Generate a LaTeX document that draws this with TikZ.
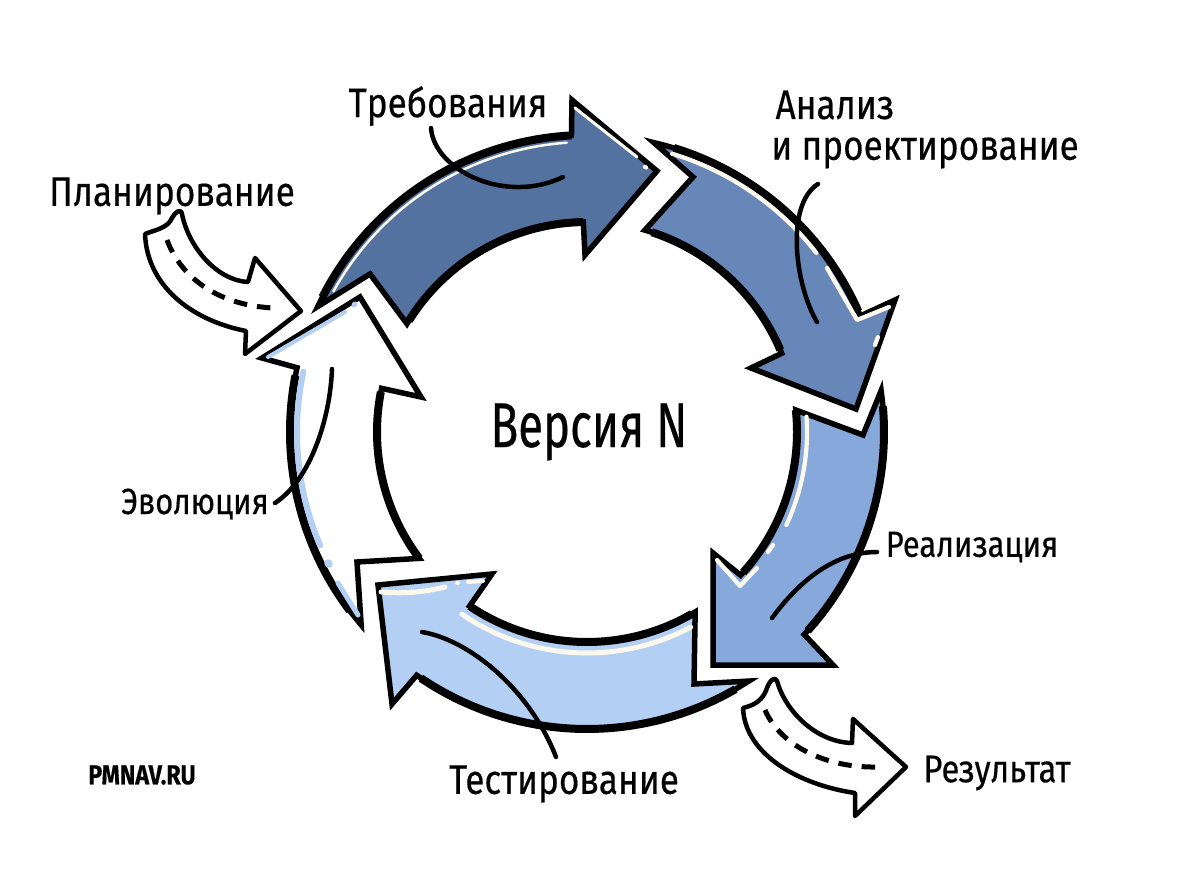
\documentclass[tikz,border=0pt]{standalone}
\usepackage{fontspec}
\setmainfont[FakeStretch=.85,FakeBold=.4]{Fira Sans}
\newfontfamily\tallfont[FakeStretch=.72,FakeBold=.4]{Fira Sans}
\definecolor{inkone}{HTML}{5472A0}
\definecolor{inktwo}{HTML}{6787B8}
\definecolor{inkthree}{HTML}{87A8DA}
\definecolor{inkfour}{HTML}{B4CFF4}
\definecolor{cream}{HTML}{FBF8EE}
\tikzset{
	ring/.style={smooth, samples=25},
	body/.style={draw=black, line width=.11cm, line join=miter, miter limit=20},
	rim/.style={draw=black, line width=.16cm},
	shine/.style={draw=cream, line width=.085cm, line cap=round, line join=round},
	bluemark/.style={draw=inkfour, line width=.12cm, line cap=round, line join=round},
	leader/.style={draw=black, line width=.09cm, line cap=round},
	sidearrow/.style={draw=black, fill=white, line width=.09cm, line join=round},
	sidedash/.style={draw=black, line width=.1cm, dash pattern=on .27cm off .2cm},
	label/.style={font=\fontsize{23.5}{24}\selectfont, inner sep=0pt},
	smalllabel/.style={font=\fontsize{20.7}{21}\selectfont, inner sep=0pt},
}

\begin{document}
\begin{tikzpicture}[x=.02cm,y=-.02cm]
	\useasboundingbox (0,0) rectangle (1200,885);
	\fill[white] (0,0) rectangle (1200,885);
	\coordinate (c) at (587,432);

	% side arrows
	\draw[sidearrow] (182,214) .. controls (188,245) and (215,280) .. (248,282) -- (255,258) -- (301,311) -- (245,354) -- (246,331) .. controls (190,320) and (147,285) .. (145,234) .. controls (155,230) and (168,228) .. (172,218) .. controls (175,212) and (181,208) .. (182,214) -- cycle;
	\draw[sidedash] (167,240) .. controls (180,275) and (215,305) .. (273,308);
	\draw[sidearrow] (777,681) .. controls (785,710) and (815,742) .. (852,743) -- (853,719) -- (906,767) -- (855,816) -- (855,793) .. controls (800,785) and (745,755) .. (743,708) .. controls (755,705) and (763,700) .. (767,688) .. controls (770,680) and (775,676) .. (777,681) -- cycle;
	\draw[sidedash] (765,710) .. controls (780,745) and (825,768) .. (877,767);

	% ring, first arrow
	\draw[body, fill=inkone] (370,274) -- plot[ring, domain=205:267] ([shift={(c)}]\x:297) -- (572,100) -- (657,171) -- (585,255) -- plot[ring, domain=269:211] ([shift={(c)}]\x:210) -- cycle;
	\draw[rim] plot[ring, domain=207:267] ([shift={(c)}]\x:297);
	\draw[rim] plot[ring, domain=269:212] ([shift={(c)}]\x:210);
	\draw[shine, line width=.05cm] plot[ring, domain=209:266] ([shift={(c)}]\x:290);
	\draw[shine, line width=.06cm] (575,108) -- (637,157);
	\draw[shine] (645,167) -- (646,167.5);

	% second arrow
	\draw[body, fill=inktwo] (693,177) -- plot[ring, domain=-77:-23] ([shift={(c)}]\x:297) -- (895,300) -- (856,409) -- (751,368) -- plot[ring, domain=-22:-74] ([shift={(c)}]\x:210) -- cycle;
	\draw[rim] plot[ring, domain=-73:-24] ([shift={(c)}]\x:297);
	\draw[rim] plot[ring, domain=-23:-72] ([shift={(c)}]\x:210);
	\draw[shine] plot[ring, domain=-73:-38] ([shift={(c)}]\x:291);
	\draw[shine] (827,268) -- (857,320) -- (889,307);
	\draw[shine] (878,337) -- (875,345);

	% third arrow
	\draw[body, fill=inkthree] (863,435) -- plot[ring, domain=-8:43] ([shift={(c)}]\x:297) -- (833,665) -- (713,665) -- (713,553) -- plot[ring, domain=43:-6] ([shift={(c)}]\x:210) -- cycle;
	\draw[rim] plot[ring, domain=-5:42] ([shift={(c)}]\x:297);
	\draw[rim] plot[ring, domain=42:-6] ([shift={(c)}]\x:210);
	\draw[shine] plot[ring, domain=-4:25] ([shift={(c)}]\x:220);
	\draw[shine] (773,545) -- (768,552);
	\draw[shine] (717,560) -- (740,586) -- (757,568);

	% fourth arrow
	\draw[body, fill=inkfour] (694,684) -- plot[ring, domain=57:125] ([shift={(c)}]\x:297) -- (392,704) -- (378,585) -- (492,574) -- plot[ring, domain=124:59] ([shift={(c)}]\x:210) -- cycle;
	\draw[rim] plot[ring, domain=60:124] ([shift={(c)}]\x:297);
	\draw[rim] plot[ring, domain=124:60] ([shift={(c)}]\x:210);
	\draw[shine, line width=.1cm] plot[ring, domain=124.5:62] ([shift={(c)}]\x:221);
	\draw[shine, line width=.1cm] (381,592) .. controls (405,594) and (425,592) .. (445,587);
	\draw[shine, line width=.08cm] (457,583) -- (458,583);
	\draw[shine, line width=.08cm] (468,582) -- (483,581);

	% last arrow, the white one
	\draw[body, fill=white] (360,297) -- (262,358) -- plot[ring, domain=192.5:139.5] ([shift={(c)}]\x:297) -- (357,562) -- plot[ring, domain=143:192] ([shift={(c)}]\x:210) -- (421,397) -- cycle;
	\draw[rim] plot[ring, domain=191:143] ([shift={(c)}]\x:297);
	\draw[rim] plot[ring, domain=143:191] ([shift={(c)}]\x:210);
	\draw[bluemark] plot[ring, domain=192:157] ([shift={(c)}]\x:290);
	\draw[bluemark, line width=.15cm] (328,563) -- (329,564);
	\draw[bluemark, line width=.1cm] (338,583) -- (358,615);
	\draw[bluemark, line width=.08cm] (268,357) -- (345,312);
	\draw[bluemark, line width=.1cm] (354,305) -- (355,304);

	% labels
	\node[label] (trebovaniya) at (448,106) {Требования};
	\node[label] (planirovanie) at (172,196) {Планирование};
	\node[label] (analiz) at (835,105) {Анализ};
	\node[label] (proektirovanie) at (925,153) {и проектирование};
	\node[smalllabel] (realizaciya) at (972,547) {Реализация};
	\node[smalllabel] (evolyuciya) at (195,504) {Эволюция};
	\node[label] (testirovanie) at (564,784) {Тестирование};
	\node[label, font=\fontsize{22}{22}\selectfont] (rezultat) at (997,773) {Результат};
	\node[label, font=\tallfont\fontsize{36}{36}\selectfont] (versiya) at (589,432) {Версия N};
	\node[label, font=\fontsize{15.6}{16}\bfseries\selectfont] (pmnav) at (142,775) {PMNAV.RU};

	% leaders
	\coordinate (trebovaniyaend) at (563,177);
	\coordinate (analizend) at (817,322);
	\coordinate (realizaciyaend) at (772,618);
	\coordinate (testirovanieend) at (422,632);
	\coordinate (evolyuciyaend) at (332,369);
	\draw[leader] (431,128) .. controls (434,170) and (505,205) .. (trebovaniyaend);
	\draw[leader] (818,184) .. controls (785,205) and (795,285) .. (analizend);
	\draw[leader] (877,552) .. controls (835,552) and (800,580) .. (realizaciyaend);
	\draw[leader] (556,757) .. controls (530,690) and (470,640) .. (testirovanieend);
	\draw[leader] (275,503) .. controls (310,480) and (330,420) .. (evolyuciyaend);
\end{tikzpicture}
\end{document}
